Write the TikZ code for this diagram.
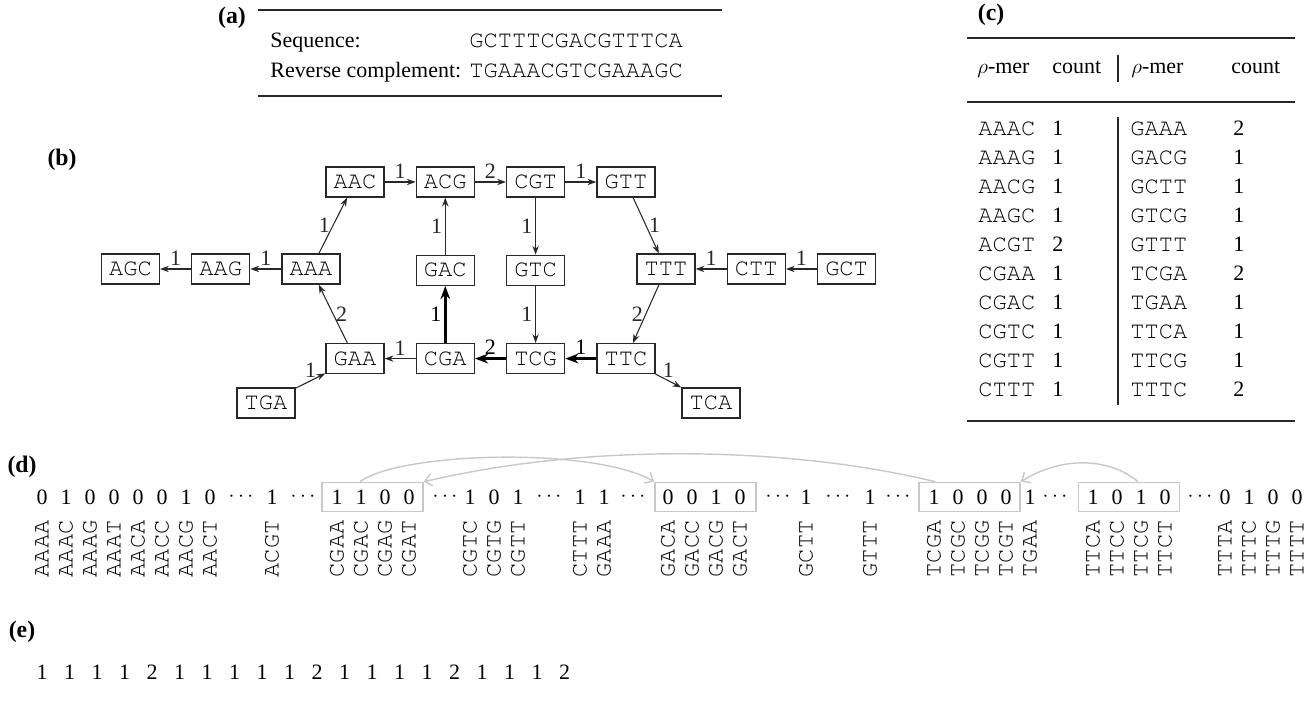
\documentclass[tikz,border=0pt]{standalone}
\usepackage{fontspec}
\setmainfont{Liberation Serif}
\newfontfamily\dnafont{texgyrecursor-regular.otf}
\usepackage{tikz}
\usetikzlibrary{positioning,arrows.meta}
\definecolor{inkgray}{RGB}{40,40,40}
\definecolor{linkgray}{RGB}{200,200,200}

\begin{document}
\begin{tikzpicture}[
        x=0.02cm, y=-0.02cm,
        node distance=1.14cm and 0.62cm,
        every node/.style={font=\fontsize{12.5}{15}\selectfont},
        panel/.style={font=\fontsize{13.5}{16}\selectfont\bfseries, inner sep=0pt},
        kmer/.style={rectangle, draw=inkgray, line width=0.75pt, minimum width=1.16cm,
                     minimum height=0.6cm, inner sep=0pt, font=\dnafont\fontsize{13.5}{16}\selectfont},
        dna/.style={inner sep=0pt, font=\dnafont\fontsize{13.5}{16}\selectfont},
        vdna/.style={dna, rotate=90, anchor=east},
        edge/.style={-{Stealth[length=5pt,width=3.6pt]}, inkgray, line width=0.6pt},
        heavy/.style={-{Stealth[length=7.5pt,width=5.5pt]}, black, line width=1.6pt},
        wt/.style={inner sep=1.5pt},
        head/.style={anchor=base west, inner sep=0pt},
        rule/.style={inkgray, line width=0.65pt},
        bitbox/.style={rectangle, draw=linkgray, line width=0.9pt, minimum width=2.02cm,
                       minimum height=0.58cm, inner sep=0pt},
        link/.style={-{Straight Barb[length=4pt,width=7pt]}, linkgray, line width=0.8pt}
    ]
        \fill[white] (0,0) rectangle (1314,715);
        \useasboundingbox (0,0) rectangle (1314,715);

        % (a) 序列
        \node[panel] (lbla) at (232,18) {(a)};
        \draw[rule] (258,10) -- (722,10);
        \node[head] (seqname) at (270,48) {Sequence:};
        \node[head] (rcname) at (270,78) {Reverse complement:};
        \node[dna, anchor=base west] (seqfwd) at (469,48) {GCTTTCGACGTTTCA};
        \node[dna, anchor=base west] (seqrev) at (469,78) {TGAAACGTCGAAAGC};
        \draw[rule] (258,96) -- (722,96);

        % (b) de Bruijn 图
        \node[panel] (lblb) at (62,160) {(b)};
        \node[kmer] (aac) at (355,182) {AAC};
        \node[kmer, right=of aac] (acg) {ACG};
        \node[kmer, right=of acg] (cgt) {CGT};
        \node[kmer, right=of cgt] (gtt) {GTT};
        \node[kmer, below=of acg] (gac) {GAC};
        \node[kmer, below=of cgt] (gtc) {GTC};
        \node[kmer, below=of gac] (cga) {CGA};
        \node[kmer, below=of gtc] (tcg) {TCG};
        \node[kmer, right=of tcg] (ttc) {TTC};
        \node[kmer, left=of cga] (gaa) {GAA};
        \node[kmer] (aaa) at (311,269) {AAA};
        \node[kmer, left=of aaa] (aag) {AAG};
        \node[kmer, left=of aag] (agc) {AGC};
        \node[kmer] (ttt) at (666,269) {TTT};
        \node[kmer, right=of ttt] (ctt) {CTT};
        \node[kmer, right=of ctt] (gct) {GCT};
        \node[kmer] (tga) at (266,403) {TGA};
        \node[kmer] (tca) at (711,403) {TCA};

        % 边
        \draw[edge] (aac) -- node[wt, above] {1} (acg);
        \draw[edge] (acg) -- node[wt, above] {2} (cgt);
        \draw[edge] (cgt) -- node[wt, above] {1} (gtt);
        \draw[edge] (gtt) -- node[wt, right] {1} (ttt);
        \draw[edge] (cgt) -- node[wt, left] {1} (gtc);
        \draw[edge] (gtc) -- node[wt, left] {1} (tcg);
        \draw[edge] (gac) -- node[wt, left] {1} (acg);
        \draw[heavy] (cga) -- node[wt, left] {1} (gac);
        \draw[edge] (aaa) -- node[wt, left] {1} (aac);
        \draw[edge] (aaa) -- node[wt, above] {1} (aag);
        \draw[edge] (aag) -- node[wt, above] {1} (agc);
        \draw[edge] (gaa) -- node[wt, right] {2} (aaa);
        \draw[edge] (cga) -- node[wt, above] {1} (gaa);
        \draw[heavy] (tcg) -- node[wt, above] {2} (cga);
        \draw[heavy] (ttc) -- node[wt, above] {1} (tcg);
        \draw[edge] (ttt) -- node[wt, left] {2} (ttc);
        \draw[edge] (ctt) -- node[wt, above] {1} (ttt);
        \draw[edge] (gct) -- node[wt, above] {1} (ctt);
        \draw[edge] (ttc) -- node[wt, above] {1} (tca);
        \draw[edge] (tga) -- node[wt, above] {1} (gaa);

        % (c) 计数表
        \node[panel] (lblc) at (991,15) {(c)};
        \draw[rule] (967,38) -- (1295,38);
        \node[head] (hmer1) at (977,74) {$\rho$-mer};
        \node[head] (hcnt1) at (1052,74) {count};
        \node[head] (hmer2) at (1131,74) {$\rho$-mer};
        \node[head] (hcnt2) at (1231,74) {count};
        \draw[rule] (1118,55) -- (1118,82);
        \draw[rule] (967,102) -- (1295,102);
        \foreach \l/\lc/\r/\rc [count=\i from 0] in {AAAC/1/GAAA/2, AAAG/1/GACG/1,
                AACG/1/GCTT/1, AAGC/1/GTCG/1, ACGT/2/GTTT/1, CGAA/1/TCGA/2,
                CGAC/1/TGAA/1, CGTC/1/TTCA/1, CGTT/1/TTCG/1, CTTT/1/TTTC/2} {
            \node[dna, anchor=base west] (lmer\i) at (978,136+28.9*\i) {\l};
            \node[head] (lcnt\i) at (1052,136+28.9*\i) {\lc};
            \node[dna, anchor=base west] (rmer\i) at (1130,136+28.9*\i) {\r};
            \node[head] (rcnt\i) at (1233,136+28.9*\i) {\rc};
        }
        \draw[rule] (1118,117) -- (1118,405);
        \draw[rule] (967,421) -- (1295,421);

        % (d) 位向量
        \node[panel] (lbld) at (22,467) {(d)};
        \node[bitbox] (blk1) at (372.5,497) {};
        \node[bitbox] (blk2) at (705.5,497) {};
        \node[bitbox] (blk3) at (969.5,497) {};
        \node[bitbox] (blk4) at (1129,497) {};
        \foreach \x/\b/\k [count=\n] in {42/0/AAAA, 66/1/AAAC, 90/0/AAAG, 114/0/AAAT,
                138/0/AACA, 162/0/AACC, 186/1/AACG, 210/0/AACT, 272/1/ACGT,
                337/1/CGAA, 361/1/CGAC, 385/0/CGAG, 409/0/CGAT,
                470/1/CGTC, 494/0/CGTG, 518/1/CGTT, 580/1/CTTT, 604/1/GAAA,
                668/0/GACA, 692/0/GACC, 716/1/GACG, 740/0/GACT, 806/1/GCTT, 870/1/GTTT,
                934/1/TCGA, 958/0/TCGC, 982/0/TCGG, 1006/0/TCGT, 1030/1/TGAA,
                1093/1/TTCA, 1117/0/TTCC, 1141/1/TTCG, 1165/0/TTCT,
                1225/0/TTTA, 1249/1/TTTC, 1273/0/TTTG, 1297/0/TTTT} {
            \node (bit\n) at (\x,497) {\b};
            \node[vdna] (kl\n) at (\x,520) {\k};
        }
        \foreach \x [count=\n] in {241,303,445,549,633,778,838,898,1055,1200}
            \node (dots\n) at (\x,497) {$\cdots$};
        \draw[link] ([xshift=-0.25cm]blk1.north) .. controls +(40,-30) and +(-60,-35) .. (blk2.north west);
        \draw[link] ([xshift=-0.69cm]blk3.north) .. controls +(-130,-32) and +(180,-42) .. (blk1.north east);
        \draw[link] ([xshift=0.18cm]blk4.north) .. controls +(-30,-25) and +(40,-25) .. (blk3.north east);

        % (e) 计数
        \node[panel] (lble) at (22,632) {(e)};
        \foreach \c [count=\i from 0] in {1,1,1,1,2,1,1,1,1,1,2,1,1,1,1,2,1,1,1,2}
            \node (cnt\i) at (42+27.5*\i,672) {\c};
    \end{tikzpicture}
\end{document}
